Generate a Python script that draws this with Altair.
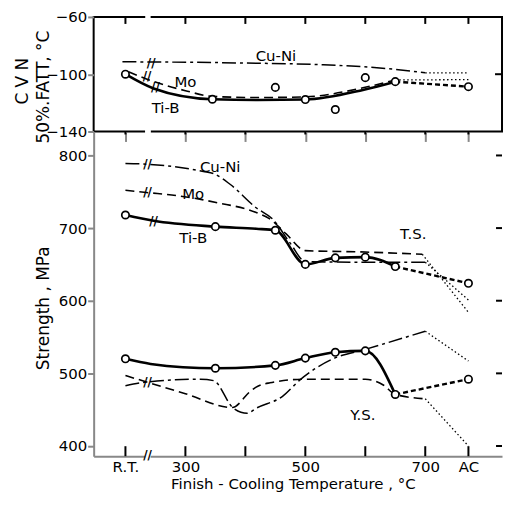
import altair as alt
import pandas as pd

# ---------------- x axis ----------------
x_ticks = [200, 300, 400, 500, 600, 700, 772]
break_x = [233, 242]

# ---------------- CVN 50% FATT panel ----------------
cvn_circ_x = [200, 345, 450, 500, 550, 600, 650, 772]
cvn_circ_y = [-100, -117.5, -109.2, -117.7, -124.7, -102.4, -105.2, -108.7]

cvn_tib_x = [200, 247, 345, 420, 500, 596, 650]
cvn_tib_y = [-100, -110, -117.5, -118, -117.7, -111, -105.2]
cvn_tib_ext_x = [650, 772]
cvn_tib_ext_y = [-105.2, -108.7]

cvn_mo_x = [205, 250, 300, 345, 420, 500, 596, 650]
cvn_mo_y = [-98.3, -105.5, -111.5, -115.5, -116.3, -115.8, -109.5, -104]
cvn_mo_ext_x = [650, 772]
cvn_mo_ext_y = [-104, -103.8]

cvn_cuni_x = [195, 400, 530, 640, 700]
cvn_cuni_y = [-91.3, -92.2, -93.4, -96.2, -99]
cvn_cuni_ext_x = [700, 772]
cvn_cuni_ext_y = [-99, -99]

cvn_lab_text = ["Cu-Ni", "Mo", "Ti-B"]
cvn_lab_x = [451, 300, 267]
cvn_lab_y = [-87, -105.5, -123.3]

cvn_brk_x = [243, 236, 250]
cvn_brk_y = [-92, -101, -109]

# ---------------- Strength panel ----------------
ts_circ_x = [200, 350, 450, 500, 550, 600, 650, 772]
ts_circ_y = [718, 702, 697, 650, 659, 660, 647, 624]
ts_tib_x = [200, 247, 350, 418, 450, 500, 550, 600, 650]
ts_tib_y = [718, 710, 702, 699, 697, 650, 659, 660, 647]
ts_tib_ext_x = [650, 772]
ts_tib_ext_y = [647, 624]
ts_mo_x = [200, 235, 292, 353, 418, 440, 468, 500, 600, 695]
ts_mo_y = [752, 749, 744, 735, 721.5, 713, 692, 669, 667, 664]
ts_mo_ext_x = [695, 772]
ts_mo_ext_y = [664, 584]
ts_cuni_x = [200, 235, 330, 347, 375, 418, 446, 475, 500, 600, 700]
ts_cuni_y = [789, 788, 778, 775, 760, 728, 712, 679, 654, 653, 653]
ts_cuni_ext_x = [700, 772]
ts_cuni_ext_y = [653, 601]

ys_circ_x = [200, 350, 450, 500, 550, 600, 650, 772]
ys_circ_y = [520, 507, 511, 521, 529, 531, 471, 492]
ys_tib_x = [200, 242, 350, 450, 500, 550, 600, 650]
ys_tib_y = [520, 513, 507, 511, 521, 529, 531, 471]
ys_tib_ext_x = [650, 772]
ys_tib_ext_y = [471, 492]
ys_mo_x = [200, 300, 378, 408, 418, 441, 500, 600, 630, 650, 700]
ys_mo_y = [497, 472, 453, 475, 481, 487, 492, 492, 484, 471, 465]
ys_mo_ext_x = [700, 772]
ys_mo_ext_y = [465, 400]
ys_cuni_x = [200, 235, 325, 347, 380, 403, 418, 463, 491, 546, 600, 700]
ys_cuni_y = [483, 488, 492, 490, 452, 445, 452, 469, 491, 520, 533, 558]
ys_cuni_ext_x = [700, 772]
ys_cuni_ext_y = [558, 517]

str_lab_text = ["Cu-Ni", "Mo", "Ti-B", "T.S.", "Y.S."]
str_lab_x = [358, 313, 313, 680, 596]
str_lab_y = [784, 747, 687, 692, 442]

str_brk_x = [237, 237, 247, 237]
str_brk_y = [788, 749, 710, 488]

# ---------------- layout ----------------
W = 410
H1 = 115
H2 = 326
FONT = "DejaVu Sans"

xscale = alt.Scale(domain=[147, 828], nice=False, zero=False)
y1scale = alt.Scale(domain=[-140, -60], nice=False, zero=False)
y2scale = alt.Scale(domain=[386, 833], nice=False, zero=False)

TITLE = dict(titleFont=FONT, titleFontWeight="normal", titleColor="black")
LABEL = dict(labelFont=FONT, labelFontSize=15, labelColor="black")

x_top = alt.X("x:Q", scale=xscale, axis=alt.Axis(
    values=x_ticks, labels=False, domain=False, ticks=True, tickSize=10,
    tickWidth=2, grid=False, title=None))
y_top = alt.Y("y:Q", scale=y1scale, axis=alt.Axis(
    orient="left", values=[-140, -100, -60], domain=False, tickSize=6,
    tickWidth=2, labelPadding=1, grid=False, labelOverlap=False, **LABEL,
    title="50%.FATT, °C", titleAngle=270, titleAlign="center",
    titleBaseline="middle", titleX=-50, titleY=70, titleFontSize=17, **TITLE))
y_top_cvn = alt.Y("y:Q", scale=y1scale, axis=alt.Axis(
    orient="left", labels=False, ticks=False, domain=False, grid=False,
    title="C V N", titleAngle=270, titleAlign="center",
    titleBaseline="middle", titleX=-71, titleY=64, titleFontSize=17, **TITLE))

x_bot = alt.X("x:Q", scale=xscale, axis=alt.Axis(
    values=x_ticks, domain=True, domainWidth=2, tickSize=0, grid=False,
    labelPadding=3, labelFlush=False, labelOverlap=False, labelBound=False,
    labelBaseline="top", **LABEL,
    labelExpr="datum.value == 200 ? 'R.T.' : datum.value == 772 ? 'AC' : "
              "(datum.value == 400 || datum.value == 600) ? '' : datum.label",
    title="Finish - Cooling  Temperature , °C", titleFontSize=15, **TITLE,
    titleX=200, titleY=27, titleAlign="center", titleBaseline="middle"))
y_bot = alt.Y("y:Q", scale=y2scale, axis=alt.Axis(
    values=[400, 500, 600, 700, 800], domain=True, domainWidth=2,
    tickSize=6, tickWidth=2, labelPadding=1, grid=False, labelOverlap=False,
    **LABEL,
    title="Strength ,  MPa", titleAngle=270, titleAlign="center",
    titleBaseline="middle", titleX=-50, titleY=177, titleFontSize=17, **TITLE))


def df(xs, ys):
    return pd.DataFrame({"x": xs, "y": ys})


def line(xs, ys, xe, ye, width=1.5, dash=None):
    kw = dict(color="black", strokeWidth=width, interpolate="monotone")
    if dash:
        kw["strokeDash"] = dash
    return alt.Chart(df(xs, ys)).mark_line(**kw).encode(x=xe, y=ye)


def circles(xs, ys, xe, ye):
    return alt.Chart(df(xs, ys)).mark_point(
        shape="circle", filled=True, fill="white", stroke="black",
        strokeWidth=1.7, size=55, opacity=1).encode(x=xe, y=ye)


def labels(xs, ys, texts, xe, ye, size=15):
    d = pd.DataFrame({"x": xs, "y": ys, "t": texts})
    return alt.Chart(d).mark_text(font=FONT, fontSize=size, color="black").encode(
        x=xe, y=ye, text="t:N")


def brks(xs, ys, xe, ye):
    d = pd.DataFrame({"x": xs, "y": ys, "t": ["//"] * len(xs)})
    return alt.Chart(d).mark_text(font=FONT, fontSize=12, fontWeight="bold",
                                  color="black").encode(x=xe, y=ye, text="t:N")


MO = [9, 5]
CUNI = [14, 4, 3, 4]
DOT = [1.5, 2.5]
TIBX = [5, 3]

tick_df = pd.DataFrame({"x": x_ticks})
gap_df = pd.DataFrame({"x": [break_x[0]], "x2": [break_x[1]]})

# top panel decorations
top_ticks = alt.Chart(tick_df).mark_rule(color="black", strokeWidth=2).encode(
    x=x_top, y=alt.value(0), y2=alt.value(7))
top_right_ticks = alt.Chart(pd.DataFrame({"y": [-100]})).mark_rule(
    color="black", strokeWidth=2).encode(y=y_top, x=alt.value(W - 7), x2=alt.value(W))
top_gap_a = alt.Chart(gap_df).mark_rule(color="white", strokeWidth=5).encode(
    x=x_top, x2="x2:Q", y=alt.value(0))
top_gap_b = alt.Chart(gap_df).mark_rule(color="white", strokeWidth=5).encode(
    x=x_top, x2="x2:Q", y=alt.value(H1))

top_main = alt.layer(
    line(cvn_cuni_x, cvn_cuni_y, x_top, y_top, 1.5, CUNI),
    line(cvn_cuni_ext_x, cvn_cuni_ext_y, x_top, y_top, 1.3, DOT),
    line(cvn_mo_x, cvn_mo_y, x_top, y_top, 1.6, MO),
    line(cvn_mo_ext_x, cvn_mo_ext_y, x_top, y_top, 1.3, DOT),
    line(cvn_tib_x, cvn_tib_y, x_top, y_top, 2.6),
    line(cvn_tib_ext_x, cvn_tib_ext_y, x_top, y_top, 2.4, TIBX),
    circles(cvn_circ_x, cvn_circ_y, x_top, y_top),
    labels(cvn_lab_x, cvn_lab_y, cvn_lab_text, x_top, y_top),
    brks(cvn_brk_x, cvn_brk_y, x_top, y_top),
    top_ticks, top_right_ticks, top_gap_a, top_gap_b,
)
# second (title-only) axis carrying the "C V N" line of the axis title
top_cvn = alt.Chart(df(cvn_circ_x[:1], cvn_circ_y[:1])).mark_point(
    opacity=0).encode(x=x_top, y=y_top_cvn)

top = alt.layer(top_main, top_cvn).resolve_axis(y="independent").properties(
    width=W, height=H1, view=alt.ViewBackground(stroke="black", strokeWidth=2))

# bottom panel decorations
bot_ticks = alt.Chart(tick_df).mark_rule(color="black", strokeWidth=2).encode(
    x=x_bot, y=alt.value(H2 - 10), y2=alt.value(H2))
bot_top_ticks = alt.Chart(tick_df).mark_rule(color="black", strokeWidth=2).encode(
    x=x_bot, y=alt.value(0), y2=alt.value(3))
bot_right_ticks = alt.Chart(pd.DataFrame({"y": [400, 500, 600, 700, 800]})).mark_rule(
    color="black", strokeWidth=2).encode(y=y_bot, x=alt.value(W - 6), x2=alt.value(W))
bot_gap_a = alt.Chart(gap_df).mark_rule(color="white", strokeWidth=5).encode(
    x=x_bot, x2="x2:Q", y=alt.value(0))
bot_gap_b = alt.Chart(gap_df).mark_rule(color="white", strokeWidth=5).encode(
    x=x_bot, x2="x2:Q", y=alt.value(H2))
bot_axis_brk = alt.Chart(pd.DataFrame({"x": [237], "t": ["//"]})).mark_text(
    font=FONT, fontSize=12, fontWeight="bold", color="black").encode(
    x=x_bot, y=alt.value(H2 - 1), text="t:N")

bottom = alt.layer(
    line(ts_cuni_x, ts_cuni_y, x_bot, y_bot, 1.5, CUNI),
    line(ts_cuni_ext_x, ts_cuni_ext_y, x_bot, y_bot, 1.3, DOT),
    line(ts_mo_x, ts_mo_y, x_bot, y_bot, 1.6, MO),
    line(ts_mo_ext_x, ts_mo_ext_y, x_bot, y_bot, 1.3, DOT),
    line(ts_tib_x, ts_tib_y, x_bot, y_bot, 2.6),
    line(ts_tib_ext_x, ts_tib_ext_y, x_bot, y_bot, 2.4, TIBX),
    line(ys_cuni_x, ys_cuni_y, x_bot, y_bot, 1.5, CUNI),
    line(ys_cuni_ext_x, ys_cuni_ext_y, x_bot, y_bot, 1.3, DOT),
    line(ys_mo_x, ys_mo_y, x_bot, y_bot, 1.6, MO),
    line(ys_mo_ext_x, ys_mo_ext_y, x_bot, y_bot, 1.3, DOT),
    line(ys_tib_x, ys_tib_y, x_bot, y_bot, 2.6),
    line(ys_tib_ext_x, ys_tib_ext_y, x_bot, y_bot, 2.4, TIBX),
    circles(ts_circ_x, ts_circ_y, x_bot, y_bot),
    circles(ys_circ_x, ys_circ_y, x_bot, y_bot),
    labels(str_lab_x, str_lab_y, str_lab_text, x_bot, y_bot),
    brks(str_brk_x, str_brk_y, x_bot, y_bot),
    bot_ticks, bot_top_ticks, bot_right_ticks, bot_gap_a, bot_gap_b, bot_axis_brk,
).properties(width=W, height=H2)

chart = alt.vconcat(top, bottom, spacing=0, bounds="flush").properties(
    padding={"left": 5, "top": 0, "right": 0, "bottom": 0},
    background="white",
).configure_view(strokeWidth=0)

chart.save("out.html", embed_options={"renderer": "svg", "actions": False})
